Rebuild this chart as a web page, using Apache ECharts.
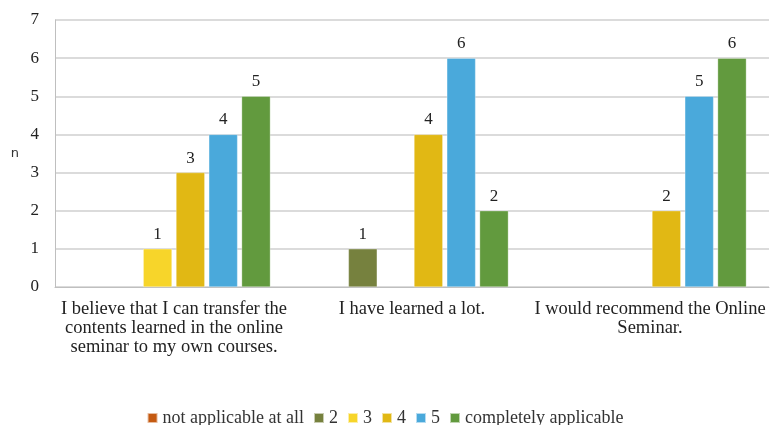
<!DOCTYPE html>
<html><head><meta charset="utf-8">
<script src="https://cdn.jsdelivr.net/npm/echarts@6/dist/echarts.min.js"></script>
<style>html,body{margin:0;padding:0;background:#fff}#c{width:770px;height:425px}</style>
</head><body><div id="c"></div>
<script>
const categories = [
  "I believe that I can transfer the\ncontents learned in the online\nseminar to my own courses.",
  "I have learned a lot.",
  "I would recommend the Online\nSeminar."
];
const seriesNames = ["not applicable at all", "2", "3", "4", "5", "completely applicable"];
const notApplicable = [null, null, null];
const s2 = [null, 1, null];
const s3 = [1, null, null];
const s4 = [3, 4, 2];
const s5 = [4, 6, 5];
const completely = [5, 2, 6];
const yTicks = [0, 1, 2, 3, 4, 5, 6, 7];
const colors = ["#C55A11", "#76813E", "#F7D52A", "#E1B814", "#4AA9DB", "#629A3E"];
const values = [notApplicable, s2, s3, s4, s5, completely];
const serif = "Liberation Serif";

const chart = echarts.init(document.getElementById('c'));
chart.setOption({
  animation: false,
  color: colors,
  grid: { left: 55, right: 1, top: 20, bottom: 138, containLabel: false },
  legend: {
    top: 404, left: 'center', itemWidth: 10, itemHeight: 10, itemGap: 9,
    icon: 'rect',
    textStyle: { fontFamily: serif, fontSize: 18, color: '#333' },
    data: seriesNames
  },
  xAxis: {
    type: 'category', data: categories,
    axisLine: { show: true, lineStyle: { color: '#bfbfbf', width: 1 } },
    axisTick: { show: false },
    axisLabel: { fontFamily: serif, fontSize: 18.5, color: '#222', lineHeight: 19, margin: 13, interval: 0, align: 'center' }
  },
  yAxis: {
    type: 'value', min: 0, max: 7, interval: 1,
    name: 'n', nameLocation: 'middle', nameGap: 36, nameRotate: 0,
    nameTextStyle: { fontFamily: 'DejaVu Sans', fontSize: 13, color: '#333', padding: [10, 0, 0, 0] },
    axisLine: { show: true, lineStyle: { color: '#bfbfbf' } },
    axisTick: { show: false },
    splitLine: { lineStyle: { color: '#cfcfcf', width: 1.5 } },
    axisLabel: { fontFamily: serif, fontSize: 17, color: '#222', margin: 16,
      formatter: v => yTicks.includes(v) ? String(v) : '' }
  },
  series: seriesNames.map((n, i) => ({
    name: n, type: 'bar', data: values[i],
    barGap: '14%', barCategoryGap: '19%',
    itemStyle: { color: colors[i], borderColor: 'rgba(255,255,255,0.6)', borderWidth: 0.5 },
    label: { show: true, position: 'top', distance: 6, fontFamily: serif, fontSize: 17, color: '#222' }
  }))
});
</script></body></html>
